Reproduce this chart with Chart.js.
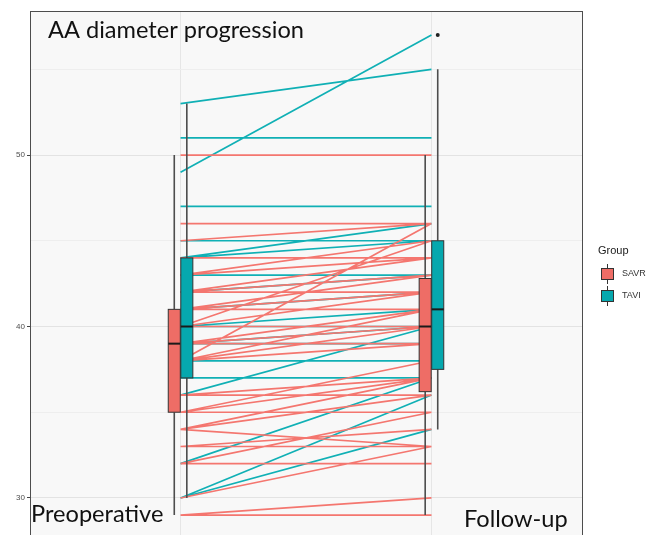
<!DOCTYPE html>
<html>
<head>
<meta charset="utf-8">
<script src="https://cdn.jsdelivr.net/npm/chart.js@4.4.0/dist/chart.umd.min.js"></script>
<style>
body { margin: 0; background: #fff; }
</style>
</head>
<body>
<canvas id="aaChart" width="653" height="535"></canvas>
<script>
// categories
const timepoints = ["Preoperative", "Follow-up"];
const groups = ["SAVR", "TAVI"];
const yTicks = [30, 35, 40, 45, 50, 55];

// paired AA diameters (mm) - same index = same patient
const savrPre  = [50, 46, 45, 44, 38, 40, 43, 43, 42, 42, 42, 41, 41, 41, 40, 40, 39, 39, 39, 38, 38, 38, 36, 36, 35, 35, 35, 34, 34, 34, 33, 33, 32, 32, 30, 29, 29];
const savrPost = [50, 46, 46, 44, 46, 45, 45, 44, 44, 42, 43, 42, 41, 43, 40, 42, 40, 41, 39, 39, 40, 41, 36, 37, 38, 37, 35, 36, 37, 33, 34, 33, 32, 35, 33, 30, 29];
const taviPre  = [53, 49, 51, 47, 45, 44, 44, 43, 42, 41, 40, 40, 39, 39, 38, 37, 36, 32, 30, 30];
const taviPost = [55, 57, 51, 47, 45, 46, 45, 43, 43, 42, 41, 40, 40, 39, 38, 37, 40, 37, 36, 34];

// boxplot stats: low whisker, q1, median, q3, high whisker
const savrPreBox  = [29, 35, 39, 41, 50];
const savrPostBox = [29, 36.2, 40, 42.8, 50];
const taviPreBox  = [30, 37, 40, 44, 53];
const taviPostBox = [34, 37.5, 41, 45, 55];
const taviPostOutliers = [57];

const savrColor = "#F4766F";
const taviColor = "#10B0B5";
const savrFill = "#EE6D66";
const taviFill = "#06A8AE";

function pairPoints(pre, post) {
    const pts = [];
    for (let i = 0; i < pre.length; i++) {
        pts.push({x: 1, y: pre[i]});
        pts.push({x: 2, y: post[i]});
        pts.push({x: 1.5, y: null});
    }
    return pts;
}

function drawBox(ctx, xs, ys, center, stats, fill) {
    const cx = xs.getPixelForValue(center);
    const half = xs.getPixelForValue(center + 0.024) - cx;
    const [lo, q1, med, q3, hi] = stats.map(v => ys.getPixelForValue(v));

    ctx.strokeStyle = "#4d4d4d";
    ctx.lineWidth = 1.6;
    ctx.beginPath();
    ctx.moveTo(cx, lo); ctx.lineTo(cx, q1);
    ctx.moveTo(cx, q3); ctx.lineTo(cx, hi);
    ctx.stroke();

    ctx.fillStyle = fill;
    ctx.fillRect(cx - half, q3, half * 2, q1 - q3);
    ctx.strokeStyle = "#333";
    ctx.lineWidth = 1;
    ctx.strokeRect(cx - half, q3, half * 2, q1 - q3);

    ctx.strokeStyle = "#1a1a1a";
    ctx.lineWidth = 2;
    ctx.beginPath();
    ctx.moveTo(cx - half, med); ctx.lineTo(cx + half, med);
    ctx.stroke();
}

const panelPlugin = {
    id: "panel",
    beforeDraw(chart) {
        const {ctx, chartArea: a} = chart;
        ctx.save();
        ctx.fillStyle = "#f8f8f8";
        ctx.fillRect(a.left, a.top, a.right - a.left, a.bottom - a.top);
        ctx.restore();
    },
    afterDatasetsDraw(chart) {
        const {ctx, scales: {x, y}} = chart;
        ctx.save();
        drawBox(ctx, x, y, 1 - 0.025, savrPreBox, savrFill);
        drawBox(ctx, x, y, 1 + 0.025, taviPreBox, taviFill);
        drawBox(ctx, x, y, 2 - 0.025, savrPostBox, savrFill);
        drawBox(ctx, x, y, 2 + 0.025, taviPostBox, taviFill);

        ctx.fillStyle = "#222";
        taviPostOutliers.forEach(v => {
            ctx.beginPath();
            ctx.arc(x.getPixelForValue(2.025), y.getPixelForValue(v), 2, 0, Math.PI * 2);
            ctx.fill();
        });
        ctx.restore();
    },
    afterDraw(chart) {
        const {ctx, chartArea: a} = chart;
        ctx.save();
        // panel frame
        ctx.strokeStyle = "#4d4d4d";
        ctx.lineWidth = 1;
        ctx.strokeRect(a.left + 0.5, a.top + 0.5, a.right - a.left, a.bottom - a.top + 2);

        // legend
        ctx.fillStyle = "#1a1a1a";
        ctx.font = "11px 'Liberation Sans', Arial, sans-serif";
        ctx.textBaseline = "middle";
        ctx.fillText("Group", 598, 251);
        ctx.font = "9px 'Liberation Sans', Arial, sans-serif";
        const keys = [[savrFill, groups[0], 274], [taviFill, groups[1], 296]];
        keys.forEach(([fill, label, cy]) => {
            ctx.strokeStyle = "#333";
            ctx.lineWidth = 1;
            ctx.beginPath();
            ctx.moveTo(607.5, cy - 10); ctx.lineTo(607.5, cy + 10);
            ctx.stroke();
            ctx.fillStyle = fill;
            ctx.fillRect(601, cy - 6, 13, 12);
            ctx.strokeRect(601.5, cy - 5.5, 12, 11);
            ctx.fillStyle = "#333";
            ctx.fillText(label, 622, cy);
        });

        // overlaid labels
        ctx.fillStyle = "#111";
        ctx.textBaseline = "alphabetic";
        ctx.font = "23.6px Lato, sans-serif";
        ctx.fillText("AA diameter progression", 48, 38);
        ctx.fillText(timepoints[0], 31, 522);
        ctx.fillText(timepoints[1], 464, 527);
        ctx.restore();
    }
};

new Chart(document.getElementById("aaChart"), {
    type: "line",
    data: {
        datasets: [
            {
                label: groups[0],
                data: pairPoints(savrPre, savrPost),
                borderColor: savrColor,
                borderWidth: 1.7,
                pointRadius: 0,
                spanGaps: false
            },
            {
                label: groups[1],
                data: pairPoints(taviPre, taviPost),
                borderColor: taviColor,
                borderWidth: 1.7,
                pointRadius: 0,
                spanGaps: false
            }
        ]
    },
    options: {
        responsive: false,
        animation: false,
        layout: { padding: { top: 11, right: 71, bottom: 0, left: 0 } },
        plugins: { legend: { display: false }, tooltip: { enabled: false } },
        scales: {
            x: {
                type: "linear",
                min: 0.4,
                max: 2.6,
                afterBuildTicks: s => { s.ticks = [{value: 1}, {value: 2}]; },
                afterFit: s => { s.height = 0; s.paddingLeft = 0; s.paddingRight = 0; },
                ticks: { display: false },
                grid: { color: "#e6e6e6", drawTicks: false },
                border: { display: false }
            },
            y: {
                min: 27.84,
                max: 58.4,
                afterBuildTicks: s => { s.ticks = yTicks.map(v => ({value: v})); },
                afterFit: s => { s.width = 30; s.paddingTop = 0; s.paddingBottom = 0; },
                ticks: {
                    callback: v => (v % 10 === 0 ? v : ""),
                    color: "#4d4d4d",
                    font: { size: 8, family: "'Liberation Sans', Arial, sans-serif" },
                    padding: 2
                },
                grid: {
                    color: c => (c.tick && c.tick.value % 10 === 0 ? "#e3e3e3" : "#eeeeee"),
                    tickColor: c => (c.tick && c.tick.value % 10 === 0 ? "#444" : "rgba(0,0,0,0)"),
                    tickLength: 3
                },
                border: { display: false }
            }
        }
    },
    plugins: [panelPlugin]
});
</script>
</body>
</html>
